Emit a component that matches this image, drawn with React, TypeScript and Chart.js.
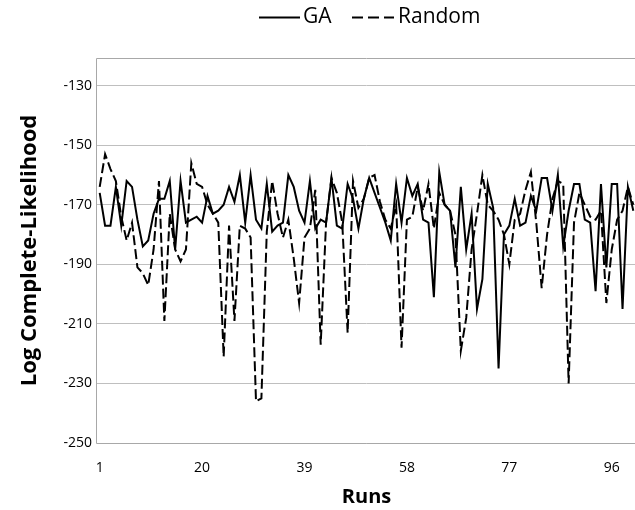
import React, { useEffect, useRef } from 'react';
import { Chart, registerables } from 'chart.js';

Chart.register(...registerables);

// Categories: runs 1..100
const runs: string[] = Array.from({ length: 100 }, (_, i) => String(i + 1));
const shownRunLabels = ['1', '20', '39', '58', '77', '96'];
const yTickValues = [-250, -230, -210, -190, -170, -150, -130];

const gaValues = [
  -166, -177, -177, -164, -177, -162, -164, -175, -184, -182,
  -173, -168, -168, -162, -185, -162, -176, -175, -174, -176,
  -167, -173, -172, -170, -164, -169, -160, -176, -160, -175,
  -178, -163, -179, -177, -176, -160, -164, -172, -176, -162,
  -178, -175, -176, -161, -177, -178, -163, -168, -178, -168,
  -161, -166, -171, -176, -182, -163, -176, -161, -167, -163,
  -175, -176, -201, -159, -170, -172, -191, -164, -185, -173,
  -205, -195, -163, -171, -225, -180, -177, -168, -177, -176,
  -167, -172, -161, -161, -172, -160, -184, -172, -163, -163,
  -175, -176, -199, -163, -191, -163, -163, -205, -164, -172,
];

const randomValues = [
  -164, -153, -158, -162, -174, -182, -176, -191, -193, -197,
  -185, -162, -209, -173, -185, -189, -185, -156, -163, -164,
  -170, -173, -176, -221, -177, -209, -177, -178, -181, -236,
  -235, -179, -162, -173, -181, -175, -188, -203, -181, -178,
  -165, -217, -176, -161, -166, -176, -213, -162, -171, -168,
  -161, -160, -169, -175, -178, -170, -218, -175, -174, -164,
  -172, -163, -178, -166, -170, -172, -180, -219, -208, -185,
  -173, -160, -170, -172, -175, -180, -190, -175, -173, -165,
  -159, -176, -198, -180, -168, -162, -163, -230, -176, -166,
  -170, -174, -175, -172, -203, -185, -175, -172, -164, -170,
];

const CANVAS_W = 742;
const CANVAS_H = 510;
const FONT = "'Open Sans', 'DejaVu Sans', sans-serif";

const framePlugin = {
  id: 'frame',
  beforeDatasetsDraw(chart: any) {
    const { ctx, chartArea } = chart;
    ctx.save();
    ctx.strokeStyle = '#A8A8A8';
    ctx.lineWidth = 1;
    ctx.beginPath();
    const l = Math.round(chartArea.left) - 0.5;
    const t = Math.round(chartArea.top) + 0.5;
    const b = Math.round(chartArea.bottom) + 0.5;
    const r = Math.round(chartArea.right) + 0.5;
    ctx.moveTo(r, t);
    ctx.lineTo(l, t);
    ctx.lineTo(l, b);
    ctx.lineTo(r, b);
    ctx.stroke();
    ctx.restore();
  },
};

const legendPlugin = {
  id: 'customLegend',
  afterDraw(chart: any) {
    const { ctx } = chart;
    const y = 17.5;
    ctx.save();
    ctx.strokeStyle = '#000';
    ctx.lineWidth = 2;
    ctx.beginPath();
    ctx.moveTo(259, y);
    ctx.lineTo(300, y);
    ctx.stroke();
    ctx.setLineDash([11, 5]);
    ctx.beginPath();
    ctx.moveTo(352, y);
    ctx.lineTo(394, y);
    ctx.stroke();
    ctx.setLineDash([]);
    ctx.fillStyle = '#000';
    ctx.font = `21px ${FONT}`;
    ctx.textBaseline = 'middle';
    ctx.textAlign = 'left';
    ctx.fillText(chart.data.datasets[0].label, 303, y);
    ctx.fillText(chart.data.datasets[1].label, 398, y);
    ctx.restore();
  },
};

export default function App() {
  const ref = useRef<HTMLCanvasElement>(null);

  useEffect(() => {
    const canvas = ref.current;
    if (!canvas) return;
    const chart = new Chart(canvas, {
      type: 'line',
      data: {
        labels: runs,
        datasets: [
          {
            label: 'GA',
            data: gaValues,
            borderColor: '#000',
            borderWidth: 2,
            pointRadius: 0,
            tension: 0,
            fill: false,
          },
          {
            label: 'Random',
            data: randomValues,
            borderColor: '#000',
            borderWidth: 2,
            borderDash: [10, 4],
            pointRadius: 0,
            tension: 0,
            fill: false,
          },
        ],
      },
      options: {
        responsive: false,
        animation: false,
        devicePixelRatio: 1,
        layout: { padding: { top: 58, right: CANVAS_W - 636, bottom: 0, left: 0 } },
        plugins: {
          legend: { display: false },
          tooltip: { enabled: false },
        },
        scales: {
          x: {
            type: 'category',
            offset: true,
            grid: { display: false, drawTicks: false },
            border: { display: false },
            ticks: {
              autoSkip: false,
              maxRotation: 0,
              minRotation: 0,
              padding: 17,
              color: '#000',
              font: { family: FONT, size: 14 },
              callback: (_v: any, i: number) =>
                shownRunLabels.includes(runs[i]) ? runs[i] : '',
            },
            title: {
              display: true,
              text: 'Runs',
              color: '#000',
              font: { family: FONT, size: 20, weight: 'bold' },
              padding: { top: 0, bottom: 1 },
            },
            afterFit: (s: any) => {
              s.height = 67;
            },
          },
          y: {
            min: -250,
            max: -120.7,
            grid: { color: '#BFBFBF', lineWidth: 1, drawTicks: false },
            border: { display: false },
            afterBuildTicks: (s: any) => {
              s.ticks = yTickValues.map((v) => ({ value: v }));
            },
            ticks: {
              padding: 5,
              color: '#000',
              font: { family: FONT, size: 14 },
            },
            title: {
              display: true,
              text: 'Log Complete-Likelihood',
              color: '#000',
              font: { family: FONT, size: 22, weight: 'bold' },
              padding: { top: 17, bottom: 0 },
            },
            afterFit: (s: any) => {
              s.width = 97;
            },
          },
        },
      },
      plugins: [framePlugin, legendPlugin],
    });
    return () => chart.destroy();
  }, []);

  return (
    <div
      style={{
        position: 'fixed',
        left: 0,
        top: 0,
        width: 635,
        height: 510,
        overflow: 'hidden',
        background: '#fff',
      }}
    >
      <canvas ref={ref} width={CANVAS_W} height={CANVAS_H} style={{ display: 'block' }} />
    </div>
  );
}
